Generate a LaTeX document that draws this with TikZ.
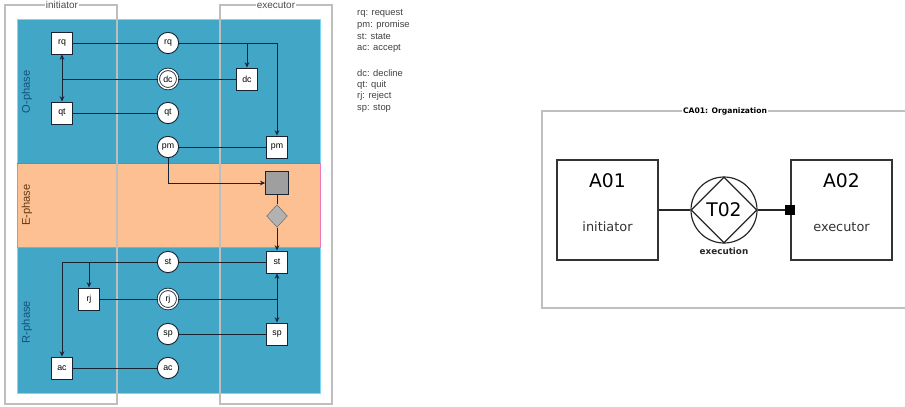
\documentclass[tikz,border=0pt]{standalone}
\usepackage{fontspec}
\setmainfont{Liberation Sans}
\newfontfamily\dejavu{DejaVu Sans}
\usetikzlibrary{arrows.meta, positioning, shapes.geometric, calc}
\definecolor{LaneBlue}{RGB}{66,166,198}
\definecolor{ExecPeach}{RGB}{252,192,146}
\definecolor{LaneGray}{RGB}{190,190,190}
\definecolor{LineDark}{RGB}{25,35,50}
\definecolor{PhaseBlue}{RGB}{22,80,125}
\definecolor{PhaseBrown}{RGB}{95,55,20}
\definecolor{BandEdge}{RGB}{235,120,190}
\definecolor{BandTop}{RGB}{140,110,215}

\tikzset{
  actbox/.style={draw=LineDark, line width=0.8pt, fill=white, minimum width=0.62cm,
    minimum height=0.66cm, inner sep=0pt, font=\fontsize{7.5}{8}\selectfont},
  factc/.style={circle, draw=LineDark, line width=0.8pt, fill=white, minimum size=0.64cm,
    inner sep=0pt, font=\fontsize{7.5}{8}\selectfont},
  factcc/.style={factc, line width=0.7pt, double=white, double distance=1.3pt, minimum size=0.58cm},
  conn/.style={draw=LineDark, line width=0.8pt},
  arr/.style={conn, -{Stealth[length=4.5pt, width=4pt]}},
  darr/.style={conn, {Stealth[length=4.5pt, width=4pt]}-{Stealth[length=4.5pt, width=4pt]}},
  lane/.style={draw=LaneGray, line width=1.5pt},
  lanelabel/.style={fill=white, inner sep=1pt, text=black!70, font=\fontsize{8.5}{10}\selectfont},
  phase/.style={rotate=90, font=\fontsize{9.5}{10}\selectfont},
  legend/.style={right, inner sep=0pt, text=black!75, font=\fontsize{8}{9}\selectfont},
  actor/.style={draw=black!80, line width=1.1pt, minimum width=3.03cm, minimum height=3cm},
}

\begin{document}
\begin{tikzpicture}[x=0.03cm, y=-0.03cm]
  \useasboundingbox (0,0) rectangle (905,406);

  % phase bands
  \fill[LaneBlue] (17,19) rectangle (320,393);
  \draw[cyan!50, line width=0.5pt] (17,19) rectangle (320,393);
  \fill[ExecPeach] (17,163) rectangle (320,247);
  \draw[BandEdge, line width=0.5pt] (17,163) rectangle (320,247);
  \draw[BandTop, line width=0.6pt] (17,163) -- (320,163);
  \node[phase, text=PhaseBlue] (ophase) at (27,92) {O-phase};
  \node[phase, text=PhaseBrown] (ephase) at (27,205) {E-phase};
  \node[phase, text=PhaseBlue] (rphase) at (27,322) {R-phase};

  % swimlanes
  \draw[lane] (5,5) rectangle (117,404);
  \draw[lane] (220,5) rectangle (332,404);
  \node[lanelabel] (inilab) at (62,5) {initiator};
  \node[lanelabel] (exelab) at (276,5) {executor};

  % order phase
  \node[actbox] (rqb) at (62,43) {rq};
  \node[factc] (rqc) at (168,43) {rq};
  \node[factcc] (dcc) at (168,79) {dc};
  \node[actbox] (dcb) at (247,79) {dc};
  \node[actbox] (qtb) at (62,113) {qt};
  \node[factc] (qtc) at (168,113) {qt};
  \node[factc] (pmc) at (168,147) {pm};
  \node[actbox] (pmb) at (277,147) {pm};

  % execution phase
  \node[draw=LineDark, line width=0.8pt, fill=gray!75, minimum size=0.68cm, inner sep=0pt] (exa) at (277,183) {};
  \node[diamond, draw=black!60, fill=gray!60, minimum width=0.62cm, minimum height=0.68cm,
    inner sep=0pt] (exd) at (277,216) {};

  % result phase
  \node[actbox] (stb) at (277,262) {st};
  \node[factc] (stc) at (168,262) {st};
  \node[actbox] (rjb) at (89,299) {rj};
  \node[factcc] (rjc) at (168,299) {rj};
  \node[factc] (spc) at (168,334) {sp};
  \node[actbox] (spb) at (277,334) {sp};
  \node[actbox] (acb) at (62,368) {ac};
  \node[factc] (acc) at (168,368) {ac};

  \draw[conn] (rqb) -- (rqc);
  \draw[arr] (rqc) -| (pmb);
  \coordinate (rqj) at (dcb |- rqc);
  \draw[arr] (rqj) -- (dcb);
  \draw[conn] (dcb) -- (dcc);
  \coordinate (dcj) at (rqb |- dcc);
  \draw[conn] (dcc) -- (dcj);
  \draw[darr] (rqb) -- (qtb);
  \draw[conn] (qtb) -- (qtc);
  \draw[conn] (pmc) -- (pmb);
  \draw[arr] (pmc) |- (exa);
  \draw[conn] (exa) -- (exd);
  \draw[arr] (exd) -- (stb);
  \draw[conn] (stb) -- (stc);
  \draw[arr] (stc) -| (acb);
  \coordinate (stj) at (rjb |- stc);
  \draw[arr] (stj) -- (rjb);
  \draw[conn] (rjb) -- (rjc);
  \coordinate (rjj) at (stb |- rjc);
  \draw[conn] (rjc) -- (rjj);
  \draw[darr] (stb) -- (spb);
  \draw[conn] (spc) -- (spb);
  \draw[conn] (acb) -- (acc);

  % legend
  \foreach \k/\v [count=\i] in {rq/request, pm/promise, st/state, ac/accept}
    \node[legend] (lga\i) at (357,{1.5+\i*11.8}) {\k: \v};
  \foreach \k/\v [count=\i] in {dc/decline, qt/quit, rj/reject, sp/stop}
    \node[legend] (lgb\i) at (357,{61+\i*11.8}) {\k: \v};

  % organization
  \draw[draw=black!25, line width=2pt] (542,111) rectangle (915,308);
  \node[fill=white, inner sep=1pt, font=\dejavu\bfseries\fontsize{6.5}{7}\selectfont] (orglab)
    at (725,111) {CA01: Organization};
  \node[actor] (a01) at (607.5,210) {};
  \node[font=\dejavu\fontsize{16}{18}\selectfont] (a01n) at (607.5,181) {A01};
  \node[font=\dejavu\fontsize{11}{13}\selectfont, text=black!80] (a01r) at (607.5,227) {initiator};
  \node[actor] (a02) at (841.5,210) {};
  \node[font=\dejavu\fontsize{16}{18}\selectfont] (a02n) at (841.5,181) {A02};
  \node[font=\dejavu\fontsize{11}{13}\selectfont, text=black!80] (a02r) at (841.5,227) {executor};
  \node[circle, draw=black!85, line width=1pt, minimum size=1.98cm, inner sep=0pt,
    font=\dejavu\fontsize{16}{18}\selectfont] (t02) at (724,210) {T02};
  \node[diamond, draw=black!85, line width=1pt, minimum width=1.98cm, minimum height=1.98cm,
    inner sep=0pt] (t02d) at (t02) {};
  \node[font=\dejavu\bfseries\fontsize{7.5}{8}\selectfont, text=black!85] (t02l) at (724,251) {execution};
  \draw[draw=black!85, line width=1pt] (a01) -- (t02);
  \draw[draw=black!85, line width=1pt] (t02) -- (a02);
  \node[fill=black, minimum size=0.3cm, inner sep=0pt] (a02c) at (a02.west) {};
\end{tikzpicture}
\end{document}
